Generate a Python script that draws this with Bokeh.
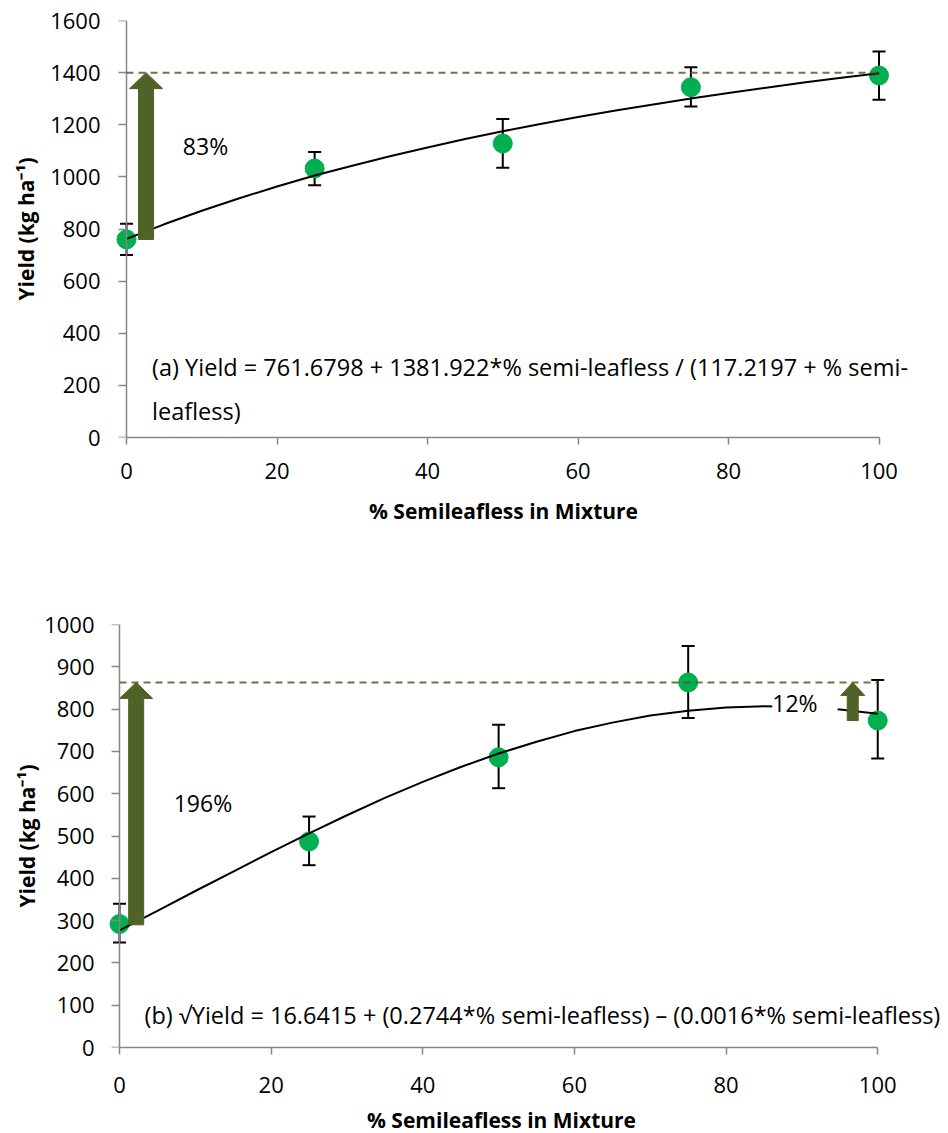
from bokeh.plotting import figure
from bokeh.models import (Range1d, FixedTicker, Whisker, ColumnDataSource, Label, TeeHead,
                          LinearAxis, Title)
from bokeh.layouts import column
from bokeh.embed import file_html
from bokeh.resources import INLINE

FONT = "Open Sans"
GREEN = "#00B050"
OLIVE = "#4F6228"
AXIS_C = "#868686"

# ---------------- data ----------------
mix_pct = [0, 25, 50, 75, 100]
x_ticks = [0, 20, 40, 60, 80, 100]
x_title = "% Semileafless in Mixture"
y_title = "Yield (kg ha\u207b\u00b9)"

# panel (a)
a_yield = [760, 1032, 1128, 1344, 1389]
a_lower = [700, 968, 1035, 1270, 1296]
a_upper = [820, 1095, 1222, 1421, 1481]
fit_x = [0, 5, 10, 15, 20, 25, 30, 35, 40, 45, 50, 55, 60, 65, 70, 75, 80, 85, 90, 95, 100]
a_fit_y = [762, 818, 870, 918, 963, 1005, 1043, 1079, 1113, 1145, 1175, 1203, 1230, 1255,
           1278, 1301, 1322, 1342, 1362, 1380, 1398]
a_ref_x = [0, 100]
a_ref_y = [1400, 1400]
a_arrow_x = 2.6
a_arrow_from = 760
a_arrow_to = 1400
a_gain = "83%"
a_gain_pos = (10.5, 1117)
a_eq1 = "(a) Yield = 761.6798 + 1381.922*% semi-leafless / (117.2197 + % semi-"
a_eq2 = "leafless)"
a_eq_pos = (3.4, 269, 100)
a_yticks = [0, 200, 400, 600, 800, 1000, 1200, 1400, 1600]

# panel (b)
b_yield = [292, 487, 686, 863, 773]
b_lower = [248, 431, 613, 779, 683]
b_upper = [340, 546, 763, 949, 869]
b_fit_y = [277, 323, 370, 416, 462, 506, 549, 590, 628, 663, 695, 723, 748, 768,
           785, 796, 804, 807, 805, 799, 789]
b_ref_x = [0, 100]
b_ref_y = [863, 863]
b_arrow_x = 2.2
b_arrow_from = 290
b_arrow_to = 863
b_gain = "196%"
b_gain_pos = (11.0, 579)
b_arrow2_x = 96.7
b_arrow2_from = 773
b_arrow2_to = 863
b_gain2 = "12%"
b_gain2_pos = (90.4, 790)
b_eq = "(b) \u221aYield = 16.6415 + (0.2744*% semi-leafless) \u2013 (0.0016*% semi-leafless)"
b_eq_pos = (3.3, 76)
b_yticks = [0, 100, 200, 300, 400, 500, 600, 700, 800, 900, 1000]

FRAME_LEFT = 104
TITLE_W = 267  # approximate rendered width of the x title (px)


def arrow_poly(xc, y0, y1, shaft_px, head_px, head_len_px, pxx, pxy):
    hw = shaft_px / 2.0 / pxx
    hh = head_px / 2.0 / pxx
    hl = head_len_px / pxy
    xs = [xc - hw, xc - hw, xc - hh, xc, xc + hh, xc + hw, xc + hw]
    ys = [y0, y1 - hl, y1 - hl, y1, y1 - hl, y1 - hl, y0]
    return xs, ys


def make_panel(yield_, lower, upper, fit_y, ref_x, ref_y, yticks, ymax, xmin, xmax,
               frame_w, frame_h, bt, bb, ylab_standoff, ytitle_standoff,
               xlab_standoff, xtitle_standoff, xtitle_center):
    p = figure(x_range=Range1d(xmin, xmax), y_range=Range1d(0, ymax),
               frame_width=frame_w, frame_height=frame_h,
               min_border_left=FRAME_LEFT, min_border_top=bt, min_border_bottom=bb,
               min_border_right=0,
               output_backend="svg", toolbar_location=None)
    p.outline_line_color = None
    p.xgrid.visible = False
    p.ygrid.visible = False
    p.background_fill_color = "white"

    xa = p.xaxis[0]
    xa.ticker = FixedTicker(ticks=x_ticks)
    xa.bounds = (0, 100)
    xa.axis_line_color = AXIS_C
    xa.axis_line_width = 1.5
    xa.major_tick_line_color = AXIS_C
    xa.major_tick_line_width = 1.5
    xa.major_tick_in = 0
    xa.major_tick_out = 7
    xa.minor_tick_line_color = None
    xa.major_label_text_font = FONT
    xa.major_label_text_font_size = "22px"
    xa.major_label_text_color = "black"
    xa.major_label_standoff = xlab_standoff

    # x title centred under the 0-100 span (frame is wider on the right)
    t = Title(text=x_title, align="left", vertical_align="top",
              offset=xtitle_center - TITLE_W / 2.0 - FRAME_LEFT, standoff=xtitle_standoff,
              text_font=FONT, text_font_size="21px", text_font_style="bold",
              text_color="black")
    p.add_layout(t, "below")

    # labels-only left axis (tick labels + title)
    ya = p.yaxis[0]
    ya.ticker = FixedTicker(ticks=yticks)
    ya.axis_line_color = None
    ya.major_tick_line_color = None
    ya.minor_tick_line_color = None
    ya.major_tick_in = 0
    ya.major_tick_out = 0
    ya.major_label_text_font = FONT
    ya.major_label_text_font_size = "22px"
    ya.major_label_text_color = "black"
    ya.major_label_standoff = ylab_standoff
    ya.axis_label = y_title
    ya.axis_label_text_font = FONT
    ya.axis_label_text_font_size = "21px"
    ya.axis_label_text_font_style = "bold"
    ya.axis_label_text_color = "black"
    ya.axis_label_standoff = ytitle_standoff

    # axis line + ticks drawn at x = 0
    yline = LinearAxis(fixed_location=0, ticker=FixedTicker(ticks=yticks),
                       axis_line_color=AXIS_C, axis_line_width=1.5,
                       major_tick_line_color=AXIS_C, major_tick_line_width=1.5,
                       major_tick_in=8, major_tick_out=0, minor_tick_line_color=None,
                       major_label_text_alpha=0, major_label_text_font_size="1px")
    p.add_layout(yline, "right")

    src = ColumnDataSource(dict(x=mix_pct, y=yield_, lower=lower, upper=upper))
    w = Whisker(base="x", lower="lower", upper="upper", source=src,
                line_color="black", line_width=2,
                upper_head=TeeHead(size=13, line_width=2, line_color="black"),
                lower_head=TeeHead(size=13, line_width=2, line_color="black"))
    p.add_layout(w)

    p.line(ref_x, ref_y, line_color=OLIVE, line_width=2, line_dash="7 5", line_alpha=0.85,
           level="overlay")
    p.scatter("x", "y", source=src, size=19, fill_color=GREEN, line_color=GREEN)
    p.line(fit_x, fit_y, line_color="black", line_width=2)
    return p


def text_label(p, x, y, text, size, **kw):
    p.add_layout(Label(x=x, y=y, text=text, text_baseline="middle", text_font=FONT,
                       text_font_size=size, text_color="black", **kw))


# ---------- panel (a) ----------
A_PX = 7.5225
A_XMIN = -(126 - FRAME_LEFT) / A_PX
A_XMAX = 109.1
A_FW, A_FH = int(round((A_XMAX - A_XMIN) * A_PX)), 417
p1 = make_panel(a_yield, a_lower, a_upper, a_fit_y, a_ref_x, a_ref_y, a_yticks, 1600,
                A_XMIN, A_XMAX, A_FW, A_FH, 20, 133, 4, 7, 18, 30, 502)
a_pxx = A_FW / (A_XMAX - A_XMIN)
a_pxy = A_FH / 1600.0
xs, ys = arrow_poly(a_arrow_x, a_arrow_from, a_arrow_to, 15, 33, 16, a_pxx, a_pxy)
p1.patch(xs, ys, fill_color=OLIVE, line_color=OLIVE)
text_label(p1, a_gain_pos[0], a_gain_pos[1], a_gain, "23px", text_align="center")
text_label(p1, a_eq_pos[0], a_eq_pos[1], a_eq1, "23.5px", text_align="left")
text_label(p1, a_eq_pos[0], a_eq_pos[2], a_eq2, "23.5px", text_align="left")

# ---------- panel (b) ----------
B_PX = 7.58
B_XMIN = -(119 - FRAME_LEFT) / B_PX
B_XMAX = 109.2
B_FW, B_FH = int(round((B_XMAX - B_XMIN) * B_PX)), 423
p2 = make_panel(b_yield, b_lower, b_upper, b_fit_y, b_ref_x, b_ref_y, b_yticks, 1000,
                B_XMIN, B_XMAX, B_FW, B_FH, 54, 80, 10, 0, 22, 20, 500)
b_pxx = B_FW / (B_XMAX - B_XMIN)
b_pxy = B_FH / 1000.0
xs, ys = arrow_poly(b_arrow_x, b_arrow_from, b_arrow_to, 15, 33, 16, b_pxx, b_pxy)
p2.patch(xs, ys, fill_color=OLIVE, line_color=OLIVE)
xs, ys = arrow_poly(b_arrow2_x, b_arrow2_from, b_arrow2_to, 11, 24, 13, b_pxx, b_pxy)
p2.patch(xs, ys, fill_color=OLIVE, line_color=OLIVE)
text_label(p2, b_gain_pos[0], b_gain_pos[1], b_gain, "23px", text_align="center")
text_label(p2, b_gain2_pos[0], b_gain2_pos[1], b_gain2, "23px", text_align="center",
           background_fill_color="white", padding=(0, 20, 0, 20))
text_label(p2, b_eq_pos[0], b_eq_pos[1], b_eq, "23.5px", text_align="left")

layout = column(p1, p2)
open("out.html", "w").write(file_html(layout, INLINE))
